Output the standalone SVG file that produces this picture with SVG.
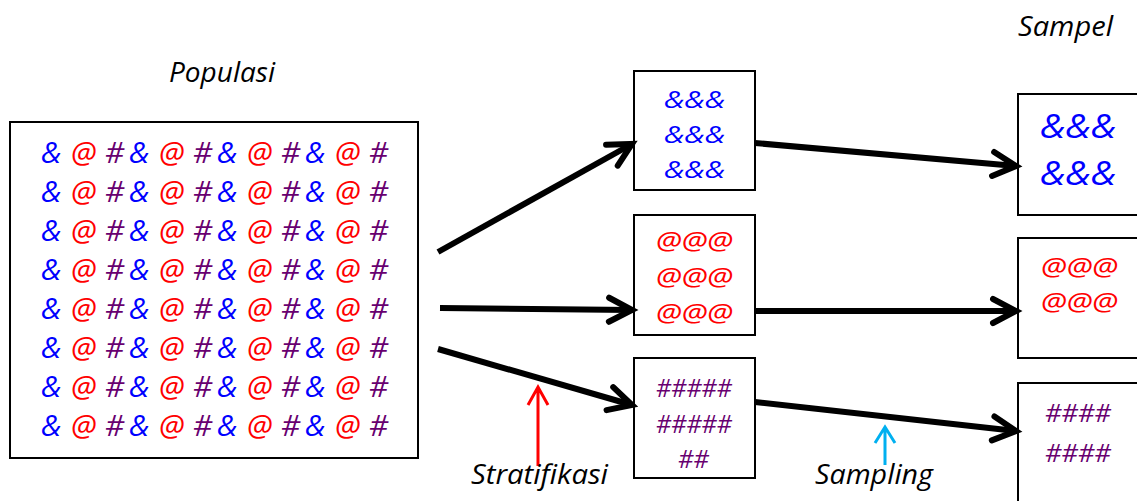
<svg xmlns="http://www.w3.org/2000/svg" width="1137" height="501" viewBox="0 0 1137 501">
  <style>
    text { font-family: "Open Sans", "Liberation Sans", sans-serif; font-style: italic; }
    .box { fill: #ffffff; stroke: #000000; stroke-width: 2; }
    .amp { fill: #0000ff; }
    .at { fill: #ff0000; }
    .hash { fill: #680070; }
    .label { fill: #000000; font-size: 27px; }
    .flow { stroke: #000000; stroke-width: 6; fill: none; marker-end: url(#head); }
  </style>
  <defs>
    <marker id="head" markerUnits="userSpaceOnUse" markerWidth="40" markerHeight="40" viewBox="-30 -20 40 40" refX="0" refY="0" orient="auto">
      <path d="M -23 -12 L 0 0 L -23 12" fill="none" stroke="#000000" stroke-width="6" stroke-linecap="round" stroke-linejoin="miter"/>
    </marker>
    <!-- one row of the population grid: & @ # repeated four times -->
    <g id="popRow" font-size="30">
      <text class="amp" x="41 129 217 305">&amp;&amp;&amp;&amp;</text>
      <text class="at" x="71 159 247 335">@@@@</text>
      <text class="hash" x="105 193 281 369">####</text>
    </g>
    <clipPath id="clipAt">
      <rect x="634" y="215" width="121" height="109"/>
    </clipPath>
  </defs>

  <!-- titles -->
  <text class="label" x="169" y="82" textLength="106" lengthAdjust="spacingAndGlyphs">Populasi</text>
  <text class="label" x="1018" y="36" textLength="95" lengthAdjust="spacingAndGlyphs">Sampel</text>

  <!-- population -->
  <g id="populasi">
    <rect class="box" x="10" y="122" width="408" height="336"/>
    <use href="#popRow" y="163"/>
    <use href="#popRow" y="202"/>
    <use href="#popRow" y="241"/>
    <use href="#popRow" y="280"/>
    <use href="#popRow" y="319"/>
    <use href="#popRow" y="358"/>
    <use href="#popRow" y="397"/>
    <use href="#popRow" y="436"/>
  </g>

  <!-- strata -->
  <g id="stratum-amp" font-size="23">
    <rect class="box" x="634" y="71" width="121" height="119"/>
    <text class="amp" x="664" y="108" textLength="61" lengthAdjust="spacingAndGlyphs">&amp;&amp;&amp;</text>
    <text class="amp" x="664" y="143" textLength="61" lengthAdjust="spacingAndGlyphs">&amp;&amp;&amp;</text>
    <text class="amp" x="664" y="178" textLength="61" lengthAdjust="spacingAndGlyphs">&amp;&amp;&amp;</text>
  </g>
  <g id="stratum-at" font-size="26">
    <rect class="box" x="634" y="215" width="121" height="120"/>
    <g clip-path="url(#clipAt)">
      <text class="at" x="656" y="250" textLength="77" lengthAdjust="spacingAndGlyphs">@@@</text>
      <text class="at" x="656" y="286" textLength="77" lengthAdjust="spacingAndGlyphs">@@@</text>
      <text class="at" x="656" y="322" textLength="77" lengthAdjust="spacingAndGlyphs">@@@</text>
    </g>
  </g>
  <g id="stratum-hash" font-size="26">
    <rect class="box" x="634" y="358" width="121" height="120"/>
    <text class="hash" x="656" y="397" textLength="76" lengthAdjust="spacingAndGlyphs">#####</text>
    <text class="hash" x="656" y="433" textLength="76" lengthAdjust="spacingAndGlyphs">#####</text>
    <text class="hash" x="678" y="468" textLength="31" lengthAdjust="spacingAndGlyphs">##</text>
  </g>

  <!-- samples -->
  <g id="sampel-amp" font-size="32">
    <rect class="box" x="1018" y="94" width="130" height="121"/>
    <text class="amp" x="1040" y="138" textLength="76" lengthAdjust="spacingAndGlyphs">&amp;&amp;&amp;</text>
    <text class="amp" x="1040" y="185" textLength="76" lengthAdjust="spacingAndGlyphs">&amp;&amp;&amp;</text>
  </g>
  <g id="sampel-at" font-size="26">
    <rect class="box" x="1018" y="238" width="130" height="120"/>
    <text class="at" x="1041" y="276" textLength="77" lengthAdjust="spacingAndGlyphs">@@@</text>
    <text class="at" x="1041" y="311" textLength="77" lengthAdjust="spacingAndGlyphs">@@@</text>
  </g>
  <g id="sampel-hash" font-size="26">
    <rect class="box" x="1018" y="383" width="130" height="130"/>
    <text class="hash" x="1045" y="422" textLength="66" lengthAdjust="spacingAndGlyphs">####</text>
    <text class="hash" x="1045" y="462" textLength="66" lengthAdjust="spacingAndGlyphs">####</text>
  </g>

  <!-- connectors -->
  <g id="connectors">
    <line class="flow" x1="438" y1="252" x2="632" y2="144"/>
    <line class="flow" x1="440" y1="308" x2="632" y2="310"/>
    <line class="flow" x1="438" y1="349" x2="632" y2="405"/>
    <line class="flow" x1="755" y1="143" x2="1016" y2="166"/>
    <line class="flow" x1="755" y1="311" x2="1016" y2="311"/>
    <line class="flow" x1="755" y1="402" x2="1016" y2="431"/>
    <!-- pointers to the two steps -->
    <path d="M 538 466 L 538 387 M 528 405 L 538 387 L 548 405" fill="none" stroke="#ff0000" stroke-width="3" stroke-linejoin="miter"/>
    <path d="M 885 465 L 885 427 M 875 443 L 885 427 L 895 443" fill="none" stroke="#00b0f0" stroke-width="3" stroke-linejoin="miter"/>
  </g>

  <text class="label" x="471" y="484" textLength="137" lengthAdjust="spacingAndGlyphs">Stratifikasi</text>
  <text class="label" x="815" y="484" textLength="118" lengthAdjust="spacingAndGlyphs">Sampling</text>
</svg>
